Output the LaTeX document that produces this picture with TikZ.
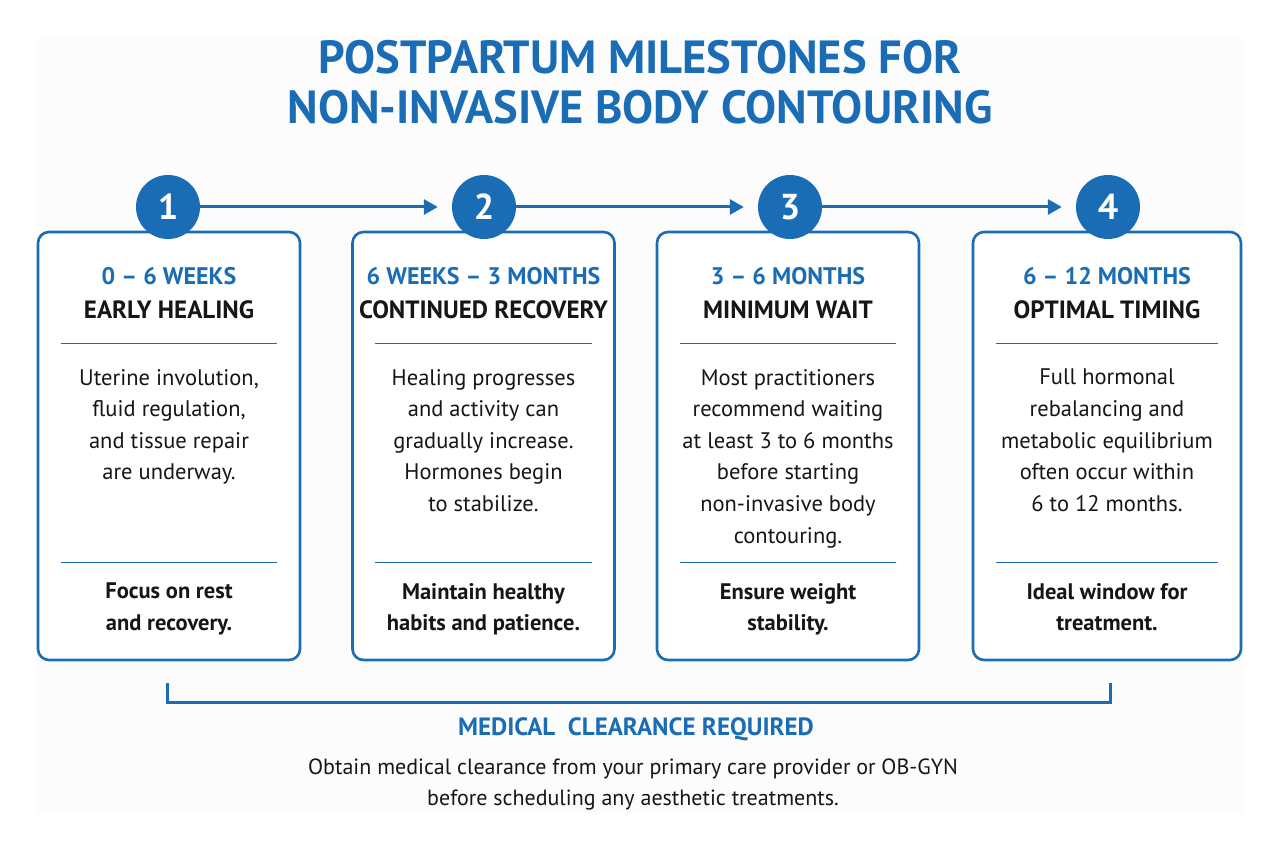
\documentclass[tikz,border=0pt]{standalone}
\usepackage{fontspec}
\setmainfont{PT Sans}
\usetikzlibrary{calc,arrows.meta}

\definecolor{mblue}{HTML}{1A6DB5}
\definecolor{ink}{HTML}{161616}
\definecolor{paper}{HTML}{FCFCFD}

\begin{document}
\begin{tikzpicture}[x=1pt,y=-1pt,
    card/.style={draw=mblue, line width=2.6pt, rounded corners=11pt, fill=white,
      minimum width=262pt, minimum height=428pt, inner sep=0pt},
    badge/.style={circle, fill=mblue, minimum size=64pt, inner sep=0pt,
      text=white, font=\fontsize{36}{36}\selectfont\bfseries},
    flow/.style={draw=mblue, line width=3pt, -{Triangle[length=14pt,width=15pt]}},
    period/.style={text=mblue, font=\fontsize{24}{24}\selectfont\bfseries},
    phase/.style={text=ink, font=\fontsize{25}{25}\selectfont\bfseries},
    body/.style={text=ink, align=center, anchor=north, inner sep=0pt,
      font=\fontsize{22.5}{31.6}\selectfont},
    tip/.style={text=ink, align=center, anchor=north, inner sep=0pt,
      font=\fontsize{22.5}{31.6}\selectfont\bfseries},
    divider/.style={draw=mblue, line width=1.3pt},
    bracket/.style={draw=mblue, line width=3pt}]

    \useasboundingbox (0,0) rectangle (1280,850);
    \fill[paper] (37,38) rectangle (1243,814);

    % title
    \node[text=mblue, align=center, font=\fontsize{46.5}{50}\selectfont\bfseries] (title) at (640,82)
      {POSTPARTUM MILESTONES FOR\\NON-INVASIVE BODY CONTOURING};

    % cards
    \node[card] (card1) at (169,446) {};
    \node[card] (card2) at (483.5,446) {};
    \node[card] (card3) at (788,446) {};
    \node[card, minimum width=268pt] (card4) at (1107,446) {};

    % badges
    \node[badge] (c1) at (168,207) {1};
    \node[badge] (c2) at (484,207) {2};
    \node[badge] (c3) at (790,207) {3};
    \node[badge] (c4) at (1108,207) {4};
    \draw[flow, shorten >=14pt] (c1) -- (c2);
    \draw[flow, shorten >=14pt] (c2) -- (c3);
    \draw[flow, shorten >=14pt] (c3) -- (c4);

    % card 1
    \node[period] (per1) at (169,276) {0 -- 6 WEEKS};
    \node[phase] (ph1) at (169,310) {EARLY HEALING};
    \draw[divider] ($(card1.north west)+(24,113)$) -- ($(card1.north east)+(-24,113)$);
    \node[body] (txt1) at (169,369) {Uterine involution,\\fluid regulation,\\and tissue repair\\are underway.};
    \draw[divider] ($(card1.north west)+(24,332)$) -- ($(card1.north east)+(-24,332)$);
    \node[tip] (tip1) at (169,583) {Focus on rest\\and recovery.};

    % card 2
    \node[period] (per2) at (483.5,276) {6 WEEKS -- 3 MONTHS};
    \node[phase] (ph2) at (483.5,310) {CONTINUED RECOVERY};
    \draw[divider] ($(card2.north west)+(24,113)$) -- ($(card2.north east)+(-24,113)$);
    \node[body] (txt2) at (483.5,369) {Healing progresses\\and activity can\\gradually increase.\\Hormones begin\\to stabilize.};
    \draw[divider] ($(card2.north west)+(24,332)$) -- ($(card2.north east)+(-24,332)$);
    \node[tip] (tip2) at (483.5,583) {Maintain healthy\\habits and patience.};

    % card 3
    \node[period] (per3) at (788,276) {3 -- 6 MONTHS};
    \node[phase] (ph3) at (788,310) {MINIMUM WAIT};
    \draw[divider] ($(card3.north west)+(24,113)$) -- ($(card3.north east)+(-24,113)$);
    \node[body] (txt3) at (788,369) {Most practitioners\\recommend waiting\\at least 3 to 6 months\\before starting\\non-invasive body\\contouring.};
    \draw[divider] ($(card3.north west)+(24,332)$) -- ($(card3.north east)+(-24,332)$);
    \node[tip] (tip3) at (788,583) {Ensure weight\\stability.};

    % card 4
    \node[period] (per4) at (1107,276) {6 -- 12 MONTHS};
    \node[phase] (ph4) at (1107,310) {OPTIMAL TIMING};
    \draw[divider] ($(card4.north west)+(24,113)$) -- ($(card4.north east)+(-24,113)$);
    \node[body] (txt4) at (1107,369) {Full hormonal\\rebalancing and\\metabolic equilibrium\\often occur within\\6 to 12 months.};
    \draw[divider] ($(card4.north west)+(24,332)$) -- ($(card4.north east)+(-24,332)$);
    \node[tip] (tip4) at (1107,583) {Ideal window for\\treatment.};

    % clearance bracket
    \coordinate (bl) at (167,683);
    \coordinate (br) at (1110,683);
    \draw[bracket] (bl) |- (640,702) -| (br);
    \node[period, font=\fontsize{25}{25}\selectfont\bfseries] (clear) at (636,729) {MEDICAL\ \ CLEARANCE REQUIRED};
    \node[body, font=\fontsize{22}{30.5}\selectfont] (note) at (633,759) {Obtain medical clearance from your primary care provider or OB-GYN\\before scheduling any aesthetic treatments.};
\end{tikzpicture}
\end{document}
